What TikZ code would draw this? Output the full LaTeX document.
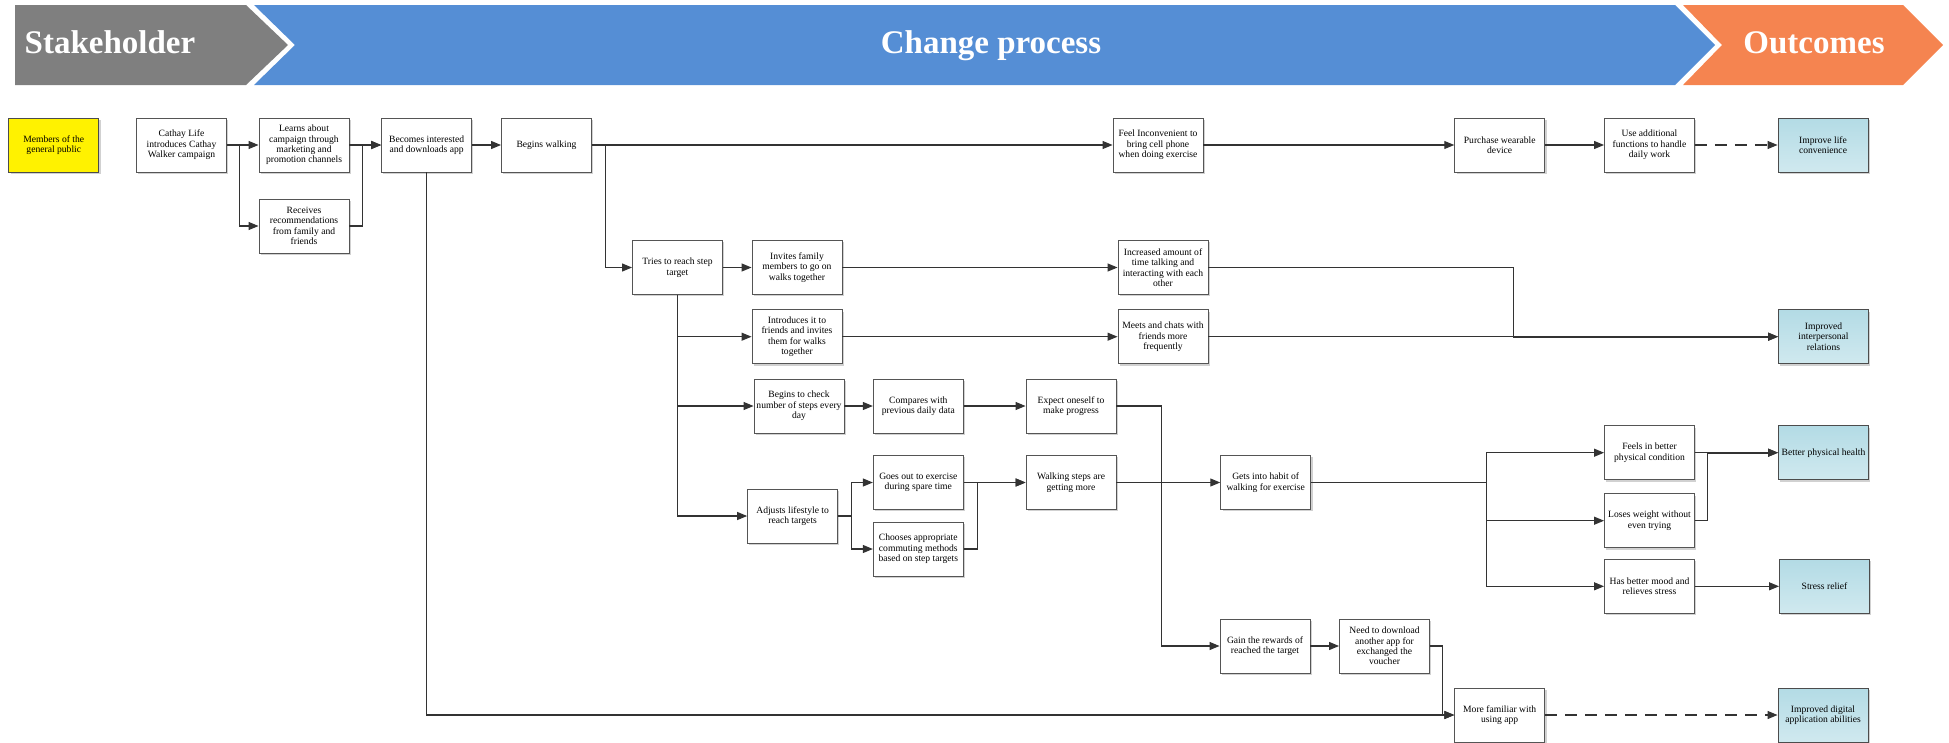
\documentclass[tikz,border=0pt]{standalone}
\usepackage{fontspec}
\setmainfont{Liberation Serif}
\newfontfamily\boxfont{Liberation Serif}
\usetikzlibrary{arrows.meta,shadows}

\definecolor{hdrgray}{HTML}{7F7F7F}
\definecolor{hdrblue}{HTML}{558ED5}
\definecolor{hdrorange}{HTML}{F58450}
\definecolor{outtop}{HTML}{B3DBE5}
\definecolor{outbot}{HTML}{D0E9EF}
\definecolor{edgegray}{HTML}{555555}

\tikzset{
  stepbox/.style={draw=edgegray, line width=0.9pt, fill=white,
    minimum width=90pt, minimum height=54pt, inner sep=1pt, align=center,
    font=\boxfont\fontsize{9.6}{10.4}\selectfont,
    drop shadow={shadow xshift=1.8pt, shadow yshift=-1.8pt, fill=black!30, opacity=0.6}},
  outbox/.style={stepbox, draw=black!70, top color=outtop, bottom color=outbot},
  pubbox/.style={stepbox, draw=black!70, fill=yellow},
  hdrtext/.style={text=white, inner sep=0pt, font=\bfseries\fontsize{33}{36}\selectfont},
  conn/.style={draw=black!80, line width=1.1pt},
  heavy/.style={conn, line width=1.9pt},
  arr/.style={conn, -{Triangle[length=10pt,width=8pt]}},
  dasharr/.style={arr, dash pattern=on 12pt off 8pt}
}

\begin{document}
\begin{tikzpicture}[x=1pt,y=-1pt]
\useasboundingbox (0,0) rectangle (1949,742);

% header chevrons
\fill[hdrgray] (15,5) -- (246,5) -- (288,45) -- (246,85) -- (15,85) -- cycle;
\fill[hdrblue] (254,5) -- (1675,5) -- (1715,45) -- (1675,85) -- (254,85) -- (295,45) -- cycle;
\fill[hdrorange] (1683,5) -- (1903,5) -- (1943,45) -- (1903,85) -- (1683,85) -- (1722,45) -- cycle;
\node[hdrtext, anchor=base west] (hstake) at (24.5,53) {Stakeholder};
\node[hdrtext, anchor=base] (hchange) at (991,53) {Change process};
\node[hdrtext, anchor=base] (hout) at (1814,53) {Outcomes};

% stakeholder
\node[pubbox] (pub) at (53.8,145) {Members of the\\general public};

% first row
\node[stepbox] (cathay) at (181.5,145) {Cathay Life\\introduces Cathay\\Walker campaign};
\node[stepbox] (learns) at (304,145) {Learns about\\campaign through\\marketing and\\promotion channels};
\node[stepbox] (receives) at (304,226) {Receives\\recommendations\\from family and\\friends};
\node[stepbox] (becomes) at (426.6,145) {Becomes interested\\and downloads app};
\node[stepbox] (begins) at (546.5,145) {Begins walking};
\node[stepbox] (feel) at (1158,145) {Feel Inconvenient to\\bring cell phone\\when doing exercise};
\node[stepbox] (purchase) at (1499.7,145) {Purchase wearable\\device};
\node[stepbox] (useadd) at (1649.5,145) {Use additional\\functions to handle\\daily work};
\node[outbox] (improve) at (1823,145) {Improve life\\convenience};

% step target branch
\node[stepbox] (tries) at (677.5,267.5) {Tries to reach step\\target};
\node[stepbox] (invites) at (797,267.5) {Invites family\\members to go on\\walks together};
\node[stepbox] (increased) at (1163,267.5) {Increased amount of\\time talking and\\interacting with each\\other};
\node[stepbox] (introduces) at (797,336.7) {Introduces it to\\friends and invites\\them for walks\\together};
\node[stepbox] (meets) at (1163,336.7) {Meets and chats with\\friends more\\frequently};
\node[outbox] (interpersonal) at (1823.5,336.7) {Improved\\interpersonal\\relations};

\node[stepbox] (check) at (799,406) {Begins to check\\number of steps every\\day};
\node[stepbox] (compares) at (918.3,406) {Compares with\\previous daily data};
\node[stepbox] (expect) at (1071,406) {Expect oneself to\\make progress};

\node[stepbox] (adjusts) at (792.6,516) {Adjusts lifestyle to\\reach targets};
\node[stepbox] (goesout) at (918.3,482.5) {Goes out to exercise\\during spare time};
\node[stepbox] (chooses) at (918.3,549) {Chooses appropriate\\commuting methods\\based on step targets};
\node[stepbox] (walking) at (1071,482.5) {Walking steps are\\getting more};
\node[stepbox] (habit) at (1265.7,482.5) {Gets into habit of\\walking for exercise};

\node[stepbox] (feels) at (1649.5,452.7) {Feels in better\\physical condition};
\node[stepbox] (loses) at (1649.5,520.7) {Loses weight without\\even trying};
\node[stepbox] (mood) at (1649.5,586.3) {Has better mood and\\relieves stress};
\node[outbox] (health) at (1823.5,452.7) {Better physical health};
\node[outbox] (stress) at (1824.5,586.3) {Stress relief};

\node[stepbox] (gain) at (1265,646) {Gain the rewards of\\reached the target};
\node[stepbox] (need) at (1384.5,646) {Need to download\\another app for\\exchanged the\\voucher};
\node[stepbox] (familiar) at (1499.7,715) {More familiar with\\using app};
\node[outbox] (digital) at (1823,715) {Improved digital\\application abilities};

% connectors
\draw[arr] (cathay.east) -- (learns.west);
\draw[arr] (cathay.east) -- ++(12.5,0) |- (receives.west);
\draw[arr] (learns.east) -- (becomes.west);
\draw[arr] (receives.east) -- ++(12.8,0) |- (becomes.west);
\draw[arr] (becomes.east) -- (begins.west);
\draw[arr] (begins.east) -- (feel.west);
\draw[arr] (begins.east) -- ++(13.5,0) |- (tries.west);
\draw[arr] (feel.east) -- (purchase.west);
\draw[arr] (purchase.east) -- (useadd.west);
\draw[dasharr] (useadd.east) -- (improve.west);

\draw[arr] (tries.east) -- (invites.west);
\draw[arr] (invites.east) -- (increased.west);
\draw[arr] (tries.south) |- (introduces.west);
\draw[arr] (tries.south) |- (check.west);
\draw[arr] (tries.south) |- (adjusts.west);
\draw[arr] (introduces.east) -- (meets.west);
\draw[arr] (increased.east) -- ++(305,0) coordinate (mergept) |- (interpersonal.west);
\draw[arr] (meets.east) -- (interpersonal.west);
% shared trunk of the two merged connectors
\draw[heavy] (mergept |- interpersonal.west) -- ([xshift=-9pt]interpersonal.west);

\draw[arr] (check.east) -- (compares.west);
\draw[arr] (compares.east) -- (expect.west);
\draw[arr] (expect.east) -- ++(45,0) |- (gain.west);

\draw[arr] (adjusts.east) -- ++(13.5,0) |- (goesout.west);
\draw[arr] (adjusts.east) -- ++(13.5,0) |- (chooses.west);
\draw[arr] (goesout.east) -- (walking.west);
\draw[arr] (chooses.east) -- ++(13.8,0) |- (walking.west);
\draw[arr] (walking.east) -- (habit.west);

\draw[heavy] (habit.east) -- ++(175,0) coordinate (habitfork);
\draw[arr] (habitfork) |- (feels.west);
\draw[arr] (habitfork) |- (loses.west);
\draw[arr] (habitfork) |- (mood.west);
\draw[arr] (feels.east) -- (health.west);
\draw[arr] (loses.east) -- ++(12.7,0) coordinate (healthjoin) |- (health.west);
\draw[heavy] (healthjoin |- health.west) -- ([xshift=-9pt]health.west);
\draw[arr] (mood.east) -- (stress.west);

\draw[arr] (gain.east) -- (need.west);
\draw[arr] (need.east) -- ++(12.8,0) |- (familiar.west);
\draw[arr] (becomes.south) |- (familiar.west);
\draw[dasharr] (familiar.east) -- (digital.west);

\end{tikzpicture}
\end{document}
